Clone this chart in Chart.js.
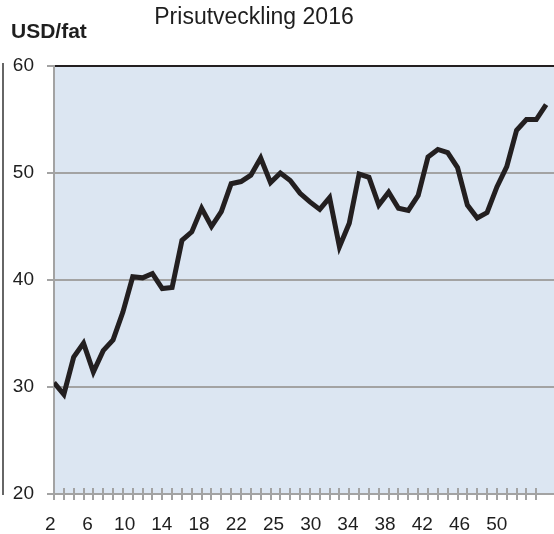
<!DOCTYPE html>
<html>
<head>
<meta charset="utf-8">
<script src="https://cdn.jsdelivr.net/npm/chart.js@4"></script>
<style>
  html, body { margin: 0; padding: 0; background: #fff; overflow: hidden; }
  #wrap { position: relative; width: 554px; height: 534px; }
</style>
</head>
<body>
<div id="wrap"><canvas id="priceChart" width="554" height="534"></canvas></div>
<script>
// Price per week 2016, USD per barrel
const prices = [
    30.4, 29.3, 32.8, 34.1, 31.4, 33.4, 34.4, 37.0, 40.3, 40.2,
    40.6, 39.2, 39.3, 43.7, 44.5, 46.7, 45.0, 46.4, 49.0, 49.2,
    49.8, 51.4, 49.1, 50.0, 49.3, 48.1, 47.3, 46.6, 47.7, 43.1,
    45.3, 49.9, 49.6, 47.0, 48.2, 46.7, 46.5, 47.9, 51.5, 52.2,
    51.9, 50.5, 47.0, 45.8, 46.3, 48.7, 50.6, 54.0, 55.0, 55.0,
    56.4
];
const tickLabels = ['2', '6', '10', '14', '18', '22', '25', '30', '34', '38', '42', '46', '50'];
const yTicks = [20, 30, 40, 50, 60];

const FONT = '"Liberation Sans", Arial, sans-serif';
const GRID = '#a3a3a3';
const INK = '#231f20';
const TEXT = '#1e1e1e';

// the week labels do not sit on the week ticks in the original, they drift a bit
const labelStart = -0.38;
const labelStep = 3.78;
const xMax = 50.8;

const plotBackground = {
    id: 'plotBackground',
    beforeDraw(chart) {
        const { ctx, chartArea: a } = chart;
        ctx.save();
        ctx.fillStyle = '#dce6f2';
        ctx.fillRect(a.left, a.top, a.right - a.left, a.bottom - a.top);
        ctx.restore();
    }
};

// small cross ticks on the x axis, one per week
const crossTicks = {
    id: 'crossTicks',
    afterDraw(chart) {
        const { ctx, chartArea: a } = chart;
        const xs = chart.scales.x;
        ctx.save();
        ctx.strokeStyle = GRID;
        ctx.lineWidth = 2;
        xs.ticks.forEach(t => {
            if (!Number.isInteger(t.value)) return;
            const px = Math.round(xs.getPixelForValue(t.value));
            ctx.beginPath();
            ctx.moveTo(px, a.bottom - 6);
            ctx.lineTo(px, a.bottom + 6);
            ctx.stroke();
        });
        ctx.restore();
    }
};

const texts = {
    id: 'texts',
    afterDraw(chart) {
        const { ctx } = chart;
        ctx.save();
        ctx.fillStyle = TEXT;
        ctx.textBaseline = 'alphabetic';
        ctx.font = '23px ' + FONT;
        ctx.textAlign = 'center';
        ctx.fillText('Prisutveckling 2016', 254, 24);
        ctx.font = 'bold 21px ' + FONT;
        ctx.textAlign = 'left';
        ctx.fillText('USD/fat', 11, 38);
        // edge of the neighbouring chart, cut off at the left
        ctx.strokeStyle = '#333';
        ctx.lineWidth = 1.5;
        ctx.beginPath();
        ctx.moveTo(3, 63);
        ctx.lineTo(3, 495);
        ctx.stroke();
        ctx.restore();
    }
};

new Chart(document.getElementById('priceChart'), {
    type: 'line',
    data: {
        datasets: [{
            data: prices.map((v, i) => ({ x: i, y: v })),
            borderColor: INK,
            borderWidth: 5,
            pointRadius: 0,
            tension: 0,
            xAxisID: 'x',
            yAxisID: 'y'
        }]
    },
    options: {
        responsive: false,
        animation: false,
        devicePixelRatio: 1,
        layout: { padding: { top: 66, right: 0, bottom: 0, left: 0 } },
        plugins: { legend: { display: false }, title: { display: false }, tooltip: { enabled: false } },
        scales: {
            x: {
                type: 'linear',
                position: 'bottom',
                weight: 0,
                min: 0,
                max: xMax,
                bounds: 'data',
                ticks: { display: false, stepSize: 1 },
                grid: { display: false },
                border: { display: true, color: GRID, width: 2 },
                afterFit: s => { s.height = 6; }
            },
            x2: {
                type: 'linear',
                position: 'bottom',
                weight: 1,
                min: 0,
                max: xMax,
                bounds: 'data',
                grid: { display: false },
                border: { display: false },
                afterBuildTicks: s => {
                    s.ticks = tickLabels.map((t, k) => ({ value: labelStart + k * labelStep }));
                },
                ticks: {
                    autoSkip: false,
                    maxRotation: 0,
                    padding: 5,
                    color: TEXT,
                    font: { family: FONT, size: 19 },
                    callback: (v, i) => tickLabels[i] ?? ''
                },
                afterFit: s => { s.height = 34; }
            },
            y: {
                type: 'linear',
                min: 20,
                max: 60,
                afterBuildTicks: s => { s.ticks = yTicks.map(v => ({ value: v })); },
                ticks: {
                    padding: 13,
                    color: TEXT,
                    font: { family: FONT, size: 19 }
                },
                grid: {
                    color: c => (c.tick && c.tick.value === 60 ? INK : GRID),
                    tickColor: GRID,
                    lineWidth: 2,
                    tickLength: 7
                },
                border: { color: GRID, width: 2 },
                afterFit: s => { s.width = 54; }
            }
        }
    },
    plugins: [plotBackground, crossTicks, texts]
});
</script>
</body>
</html>
